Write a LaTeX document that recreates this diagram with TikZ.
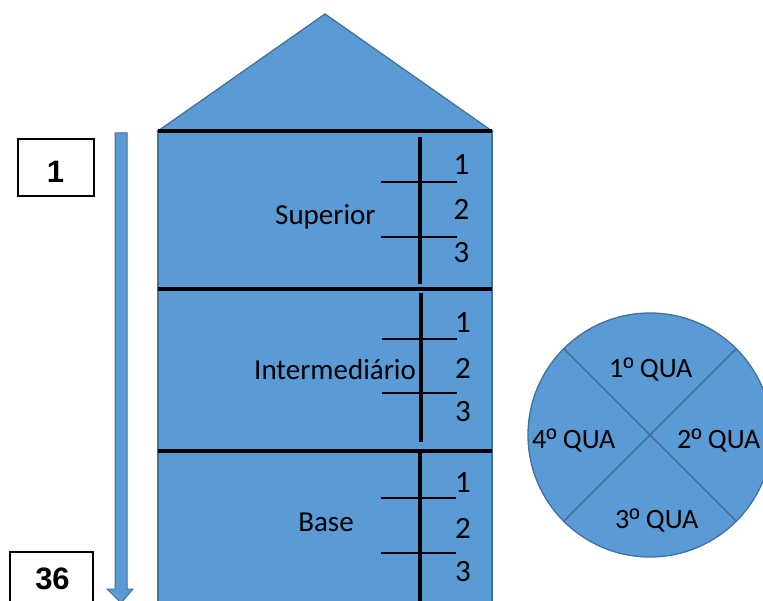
\documentclass[tikz,border=0pt]{standalone}
\usepackage{fontspec}
\setmainfont{Carlito}
\newfontfamily\arialfont{Liberation Sans}
\definecolor{silofill}{HTML}{5B9BD5}
\definecolor{siloedge}{HTML}{41719C}
\newcommand{\ordsign}{{\arialfont º}}
\begin{document}
\begin{tikzpicture}[x=1pt,y=-1pt,
  blueshape/.style={fill=silofill,draw=siloedge,line width=1.3pt},
  sepline/.style={line width=3.2pt,black},
  tickline/.style={line width=2.6pt,black},
  lbl/.style={font=\fontsize{29}{30}\selectfont,inner sep=0pt},
  num/.style={font=\fontsize{31}{33}\selectfont,inner sep=0pt},
  qlbl/.style={font=\fontsize{28}{30}\selectfont,inner sep=0pt},
  idxbox/.style={draw,line width=1.8pt,fill=white,inner sep=0pt},
  idxtext/.style={font=\arialfont\bfseries\fontsize{31}{33}\selectfont,inner sep=0pt}
]
\useasboundingbox (0,0) rectangle (763,601);
\clip (0,0) rectangle (763,601);
% roof and body
\draw[blueshape] (158,131) -- (325,14) -- (492,131) -- cycle;
\draw[blueshape] (158,131) rectangle (492,610);
% section separators
\draw[sepline] (158,131) -- (492,131);
\draw[sepline] (158,289) -- (492,289);
\draw[sepline] (158,451) -- (492,451);
% superior
\draw[sepline] (420,137) -- (420,284);
\draw[tickline] (381,182) -- (457,182);
\draw[tickline] (381,237) -- (457,237);
% intermediario
\draw[sepline] (421,293) -- (421,442);
\draw[tickline] (382,339) -- (457,339);
\draw[tickline] (382,393) -- (457,393);
% base
\draw[sepline] (420,453) -- (420,610);
\draw[tickline] (381,498) -- (456,498);
\draw[tickline] (381,553) -- (456,553);
% labels
\node[lbl,anchor=base west] (sup) at (275,225) {Superior};
\node[lbl,anchor=base west] (int) at (254,380) {Intermediário};
\node[lbl,anchor=base] (bas) at (326,531) {Base};
% numbers
\node[num] (s1) at (461.5,165) {1};
\node[num] (s2) at (461.5,209) {2};
\node[num] (s3) at (461.5,253) {3};
\node[num] (i1) at (463,323) {1};
\node[num] (i2) at (463,368) {2};
\node[num] (i3) at (463,412) {3};
\node[num] (b1) at (463,483) {1};
\node[num] (b2) at (463,528) {2};
\node[num] (b3) at (463,572) {3};
% left arrow
\draw[blueshape,line width=1pt] (115,133) -- (127,133) -- (127,589) -- (133,589) -- (121,603) -- (107,589) -- (115,589) -- cycle;
% index boxes
\node[idxbox,minimum width=76pt,minimum height=57pt] (box1) at (56,167.5) {};
\node[idxtext] (t1) at (55.5,171.5) {1};
\node[idxbox,minimum width=83pt,minimum height=58pt] (box36) at (51.5,581) {};
\node[idxtext] (t36) at (52.5,579) {36};
% circle
\node[blueshape,circle,minimum size=244pt,inner sep=0pt] (qc) at (650,435) {};
\draw[siloedge,line width=1.5pt] (qc.45) -- (qc.225);
\draw[siloedge,line width=1.5pt] (qc.135) -- (qc.315);
\node[qlbl,anchor=base west] (q1) at (609,378) {1\ordsign{} QUA};
\node[qlbl,anchor=base west] (q2) at (677,448) {2\ordsign{} QUA};
\node[qlbl,anchor=base west] (q3) at (615,528) {3\ordsign{} QUA};
\node[qlbl,anchor=base west] (q4) at (532,448) {4\ordsign{} QUA};
\end{tikzpicture}
\end{document}
